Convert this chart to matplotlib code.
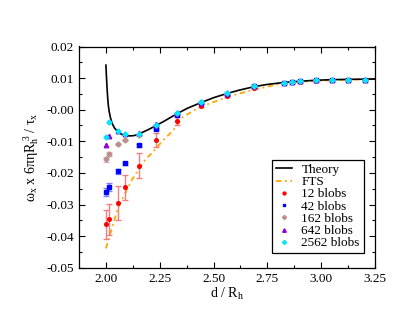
import matplotlib
matplotlib.use("Agg")
import matplotlib.pyplot as plt
from matplotlib.ticker import MultipleLocator, FormatStrFormatter

plt.rcParams['font.family'] = ['Liberation Serif', 'DejaVu Serif']
plt.rcParams['mathtext.fontset'] = 'custom'
plt.rcParams['mathtext.rm'] = 'Liberation Serif'
plt.rcParams['mathtext.it'] = 'Liberation Serif:italic'
plt.rcParams['axes.unicode_minus'] = False

# Theory curve
theory_x = [2.0, 2.002, 2.005, 2.008, 2.011, 2.015, 2.02, 2.025, 2.03, 2.04, 2.05, 2.06,
            2.073, 2.09, 2.11, 2.13, 2.15, 2.197, 2.234, 2.274, 2.332, 2.38, 2.44, 2.5,
            2.561, 2.62, 2.689, 2.75, 2.824, 2.9, 2.971, 3.05, 3.126, 3.25]
theory_y = [0.0141, 0.0112, 0.0072, 0.0040, 0.0015, -0.0005, -0.0022, -0.0035, -0.0045,
            -0.0058, -0.0066, -0.0072, -0.0078, -0.0081, -0.0083, -0.0082, -0.0078,
            -0.0063, -0.0050, -0.0035, -0.0012, 0.0005, 0.0022, 0.0038, 0.0051, 0.0062,
            0.0073, 0.0080, 0.0086, 0.0090, 0.0093, 0.0095, 0.0096, 0.0097]

# FTS curve
fts_x = [2.0, 2.058, 2.12, 2.182, 2.205, 2.267, 2.313, 2.359, 2.437, 2.515, 2.592,
         2.669, 2.75, 2.82, 2.97, 3.12, 3.25]
fts_y = [-0.0439, -0.0307, -0.0223, -0.0159, -0.0143, -0.0096, -0.0065, -0.0022,
         0.0008, 0.0028, 0.0046, 0.0060, 0.0073, 0.0083, 0.0091, 0.0095, 0.0097]

# Blob simulations
d = [2.0, 2.014, 2.058, 2.087, 2.152, 2.234, 2.332, 2.44, 2.561, 2.689,
     2.827, 2.864, 2.90, 2.974, 3.049, 3.126, 3.203]
b12 = [-0.0363, -0.0347, -0.0295, -0.0246, -0.0177, -0.0096, -0.0036, 0.0013,
       0.0044, 0.0068, 0.0083, 0.0087, 0.0089, 0.0092, 0.0093, 0.0093, 0.0094]
b12_err = [0.0045, 0.0050, 0.0053, 0.0040, 0.0039, 0.0022, 0.0013, 0.0005,
           0.0003, 0.0002, 0.0001, 0.0001, 0.0001, 0.0001, 0.0001, 0.0001, 0.0001]
b42 = [-0.0261, -0.0244, -0.0195, -0.0170, -0.0113, -0.0060, -0.0016, 0.0021,
       0.0050, 0.0074, 0.0085, 0.0088, 0.0090, 0.0093, 0.0094, 0.0094, 0.0094]
b42_err = [0.0013, 0.0013, 0.0008, 0.0005, 0.0005, 0.0003, 0.0002, 0.0001,
           0.0001, 0.0001, 0.0001, 0.0001, 0.0001, 0.0001, 0.0001, 0.0001, 0.0001]
b162 = [-0.0157, -0.0140, -0.0109, -0.0096, -0.0080, -0.0050, -0.0012, 0.0023,
        0.0052, 0.0075, 0.0085, 0.0089, 0.0090, 0.0093, 0.0094, 0.0094, 0.0094]
b162_err = [0.0007, 0.0005, 0.0003, 0.0002, 0.0002, 0.0001, 0.0001, 0.0001,
            0.0001, 0.0001, 0.0001, 0.0001, 0.0001, 0.0001, 0.0001, 0.0001, 0.0001]
b642 = [-0.0112, -0.0082, -0.0067, -0.0077, -0.0073, -0.0046, -0.0011, 0.0023,
        0.0052, 0.0075, 0.0085, 0.0089, 0.0090, 0.0093, 0.0094, 0.0094, 0.0094]
b2562 = [-0.0086, -0.0038, -0.0067, -0.0077, -0.0077, -0.0048, -0.0011, 0.0023,
         0.0052, 0.0075, 0.0085, 0.0089, 0.0090, 0.0093, 0.0094, 0.0094, 0.0094]

fig = plt.figure(figsize=(4.07, 3.15), dpi=100)
ax = fig.add_axes([79/407, 1-267.7/315, 296/407, 221.2/315])

h_th, = ax.plot(theory_x, theory_y, color='black', lw=1.2, label='Theory', zorder=3)
h_fts, = ax.plot(fts_x, fts_y, color='#FFA500', lw=1.3, ls=(0, (3, 2, 1, 2)), label='FTS', zorder=2)

ms = 2.6
h12 = ax.errorbar(d, b12, yerr=b12_err, fmt='o', color='red', ms=ms, ecolor='#f08080',
                  elinewidth=1.0, capsize=2.5, capthick=1.0, label='12 blobs', zorder=4)
h42 = ax.errorbar(d, b42, yerr=b42_err, fmt='s', color='blue', ms=ms, ecolor='#8080ff',
                  elinewidth=1.0, capsize=2.5, capthick=1.0, label='42 blobs', zorder=4)
h162 = ax.errorbar(d, b162, yerr=b162_err, fmt='D', color='#bc8f8f', ms=ms, ecolor='#d8b8b8',
                   elinewidth=1.0, capsize=2.5, capthick=1.0, label='162 blobs', zorder=4)
h642, = ax.plot(d, b642, '^', color='#9400d3', ms=ms+0.6, ls='none', label='642 blobs', zorder=5)
h2562, = ax.plot(d, b2562, 'P', color='#00e5ff', ms=ms+0.6, ls='none', label='2562 blobs', zorder=6)

ax.set_xlim(1.875, 3.25)
ax.set_ylim(-0.05, 0.02)
ax.xaxis.set_major_locator(MultipleLocator(0.25))
ax.xaxis.set_minor_locator(MultipleLocator(0.125))
ax.yaxis.set_major_locator(MultipleLocator(0.01))
ax.yaxis.set_minor_locator(MultipleLocator(0.005))
ax.xaxis.set_major_formatter(FormatStrFormatter('%.2f'))
ax.yaxis.set_major_formatter(FormatStrFormatter('%.2f'))
ax.tick_params(which='both', direction='in', top=True, right=True, labelsize=9.5, width=0.8)
ax.tick_params(which='major', length=4)
ax.tick_params(which='minor', length=2)
for s in ax.spines.values():
    s.set_linewidth(0.9)

ax.set_xlabel('d / R$_\\mathrm{h}$', fontsize=10, labelpad=1)
ax.set_ylabel('ω$_\\mathrm{x}$ x 6πηR$_\\mathrm{h}^{\\ \\mathrm{3}}$ / τ$_\\mathrm{x}$', fontsize=10, labelpad=4)

handles = [h_th, h_fts, h12[0], h42[0], h162[0], h642, h2562]
labels = ['Theory', 'FTS', '12 blobs', '42 blobs', '162 blobs', '642 blobs', '2562 blobs']
leg = ax.legend(handles, labels, loc='lower right', bbox_to_anchor=(0.962, 0.065), fontsize=9.5,
                frameon=True, fancybox=False, edgecolor='black', framealpha=1,
                handlelength=1.2, handletextpad=0.7, labelspacing=0.0,
                borderpad=0.3, borderaxespad=0.0, markerscale=0.8)
leg.get_frame().set_linewidth(0.9)

fig.savefig('out.png', dpi=100)
